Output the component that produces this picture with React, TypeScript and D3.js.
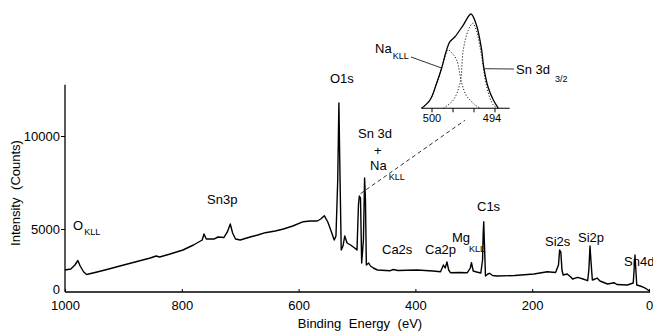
import React, { useRef, useEffect } from 'react';
import * as d3 from 'd3';

// survey spectrum (binding energy in eV, counts)
const energy = [
  1000, 990, 983, 978, 974, 968, 963, 945, 925, 906, 880, 854, 844, 838, 820, 798, 780, 765, 762, 758,
  745, 738, 728, 722, 717, 713, 708, 700, 683, 670, 657, 640, 626, 610, 592, 580, 568, 562, 556, 550,
  545, 539, 536, 533, 531, 529, 527, 524, 521, 517, 511, 504, 500, 497.5, 496, 494, 492, 489, 487, 485.5,
  484, 480, 477, 472, 465, 443, 438, 430, 397, 370, 357, 352, 349, 346, 343, 340, 325, 311, 306, 304,
  301, 295, 288, 285, 284, 283, 282, 280, 276, 273, 268, 260, 230, 197, 174, 160, 155, 153, 151, 149,
  147, 140, 134, 131, 122, 113, 105, 103, 101, 99.5, 97, 92, 89, 84, 71, 60, 55, 37, 27, 25,
  24, 22.5, 21, 15, 9, 4, 0,
];
const counts = [
  1746, 1825, 2143, 2500, 2063, 1587, 1389, 1587, 1825, 2063, 2381, 2698, 2857, 2778, 3016, 3333, 3730, 4127, 4603, 4206,
  4206, 4365, 4325, 4762, 5269, 4683, 4206, 4127, 4365, 4524, 4706, 4841, 5000, 5161, 5392, 5430, 5430, 5538, 5715, 5376,
  4921, 4127, 4444, 7634, 11774, 7634, 3333, 3651, 4444, 3889, 3730, 3492, 3333, 6290, 6774, 6667, 2302, 4127, 7742, 6559,
  2143, 2302, 2063, 1905, 1746, 1690, 1786, 1706, 1746, 1667, 1611, 2143, 1905, 2381, 1746, 1532, 1548, 1532, 1905, 2325,
  1667, 1587, 1508, 2540, 4524, 5392, 4127, 1270, 1429, 1484, 1310, 1270, 1310, 1429, 1611, 1548, 2143, 3333, 3175, 1746,
  1349, 1429, 1190, 1032, 1167, 1032, 897, 1746, 3651, 2540, 952, 1032, 1111, 873, 635, 738, 595, 556, 714, 2143,
  2937, 1746, 556, 476, 373, 238, 103,
];

const xTicks = [1000, 800, 600, 400, 200, 0];
const yTicks = [0, 5000, 10000];

// inset: Sn3d3/2 + Na KLL region (relative intensity)
const insetEnergy = [501, 500.19, 499.55, 499.08, 498.67, 498.29, 497.81, 497.02, 496.29, 495.77, 495.27, 495.08, 494.67, 494.16, 493.69];
const insetEnvelope = [0, 0.088, 0.268, 0.427, 0.597, 0.706, 0.759, 0.883, 1.0, 0.883, 0.618, 0.441, 0.229, 0.088, 0.003];
const naEnergy = [500.95, 500.19, 499.55, 499.08, 498.45, 498.1, 497.65, 497.17, 496.76, 496.38, 495.9, 495.43];
const naValues = [0, 0.088, 0.268, 0.427, 0.618, 0.586, 0.512, 0.268, 0.141, 0.088, 0.035, 0.003];
const snEnergy = [498.92, 497.97, 497.33, 497.02, 496.54, 496.12, 495.74, 495.27, 494.79, 494.16, 493.71];
const snValues = [0, 0.088, 0.268, 0.618, 0.83, 0.901, 0.812, 0.547, 0.229, 0.035, 0.003];
const insetTicks = [500, 498, 496, 494];
const insetTickLabels = ['500', '', '', '494'];

const peakLabels = [
  { text: 'Sn3p', x: 207, y: 204 },
  { text: 'O1s', x: 330, y: 83 },
  { text: 'Sn 3d', x: 358, y: 138 },
  { text: '+', x: 374, y: 155 },
  { text: 'Ca2s', x: 382, y: 254 },
  { text: 'Ca2p', x: 425, y: 254 },
  { text: 'C1s', x: 477, y: 211 },
  { text: 'Si2s', x: 545, y: 246 },
  { text: 'Si2p', x: 578, y: 242 },
  { text: 'Sn4d', x: 624, y: 266 },
];
const subLabels = [
  { main: 'O', sub: 'KLL', x: 73, y: 230, dx: 1, dy: 5 },
  { main: 'Na', sub: 'KLL', x: 370, y: 170, dx: 2, dy: 10 },
  { main: 'Mg', sub: 'KLL', x: 452, y: 242, dx: -1, dy: 10 },
  { main: 'Na', sub: 'KLL', x: 375, y: 53, dx: 1, dy: 6 },
  { main: 'Sn 3d', sub: '3/2', x: 516, y: 74, dx: 5, dy: 8 },
];

const App = () => {
  const chartRef = useRef(null);

  useEffect(() => {
    const svg = d3.select(chartRef.current);
    svg.selectAll('*').remove();
    const font = 'Liberation Sans, Arial, sans-serif';

    const x = d3.scaleLinear().domain([1000, 0]).range([65, 649]);
    // the printed axis is not linear below 5000
    const y = d3.scaleLinear().domain([0, 5000, 10000]).range([292, 229, 136]);

    // axes lines
    svg.append('line')
      .attr('x1', x(1000)).attr('x2', x(0) + 1)
      .attr('y1', y(0)).attr('y2', y(0))
      .attr('stroke', '#000').attr('stroke-width', 1.3);
    svg.append('line')
      .attr('x1', x(1000)).attr('x2', x(1000))
      .attr('y1', y(0)).attr('y2', y(12750))
      .attr('stroke', '#000').attr('stroke-width', 1.3);

    const xAxis = svg.append('g')
      .attr('transform', `translate(0,${y(0)})`)
      .call(d3.axisBottom(x).tickValues(xTicks).tickSizeInner(-3).tickSizeOuter(0).tickPadding(9).tickFormat(d3.format('d')));
    xAxis.select('.domain').remove();

    const yAxis = svg.append('g')
      .attr('transform', `translate(${x(1000)},0)`)
      .call(d3.axisLeft(y).tickValues(yTicks).tickSize(4).tickPadding(1).tickFormat(d3.format('d')));
    yAxis.select('.domain').remove();
    const zeroTick = yAxis.selectAll('.tick').filter(d => d === 0);
    zeroTick.select('line').remove();
    zeroTick.select('text').attr('y', -3).attr('x', -5);

    svg.selectAll('.tick text')
      .attr('font-family', font).attr('font-size', 13).attr('fill', '#000');
    svg.selectAll('.tick line').attr('stroke', '#000');

    svg.append('text')
      .attr('x', 360).attr('y', 328)
      .attr('text-anchor', 'middle')
      .attr('font-family', font).attr('font-size', 13).attr('word-spacing', 4)
      .text('Binding Energy (eV)');
    svg.append('text')
      .attr('transform', 'translate(20,193) rotate(-90)')
      .attr('text-anchor', 'middle')
      .attr('font-family', font).attr('font-size', 13).attr('word-spacing', 4)
      .text('Intensity (Counts)');

    // spectrum
    const line = d3.line()
      .x(i => x(energy[i]))
      .y(i => y(counts[i]));
    svg.append('path')
      .datum(d3.range(energy.length))
      .attr('d', line)
      .attr('fill', 'none')
      .attr('stroke', '#000')
      .attr('stroke-width', 1.4)
      .attr('stroke-linejoin', 'round');

    // labels
    svg.selectAll('.peak')
      .data(peakLabels)
      .enter().append('text')
      .attr('x', d => d.x).attr('y', d => d.y)
      .attr('font-family', font).attr('font-size', 13)
      .text(d => d.text);

    subLabels.forEach(d => {
      const t = svg.append('text')
        .attr('x', d.x).attr('y', d.y)
        .attr('font-family', font).attr('font-size', 13);
      t.append('tspan').text(d.main);
      t.append('tspan')
        .attr('dx', d.dx).attr('dy', d.dy)
        .attr('font-size', 9)
        .text(d.sub);
    });

    // inset
    const xi = d3.scaleLinear().domain([500, 494]).range([432, 495]);
    const yi = d3.scaleLinear().domain([0, 1]).range([108.3, 14]);

    svg.append('line')
      .attr('x1', xi(501)).attr('x2', xi(492.6))
      .attr('y1', yi(0)).attr('y2', yi(0))
      .attr('stroke', '#000').attr('stroke-width', 1.1);
    svg.selectAll('.itick')
      .data(insetTicks)
      .enter().append('line')
      .attr('x1', d => xi(d)).attr('x2', d => xi(d))
      .attr('y1', yi(0)).attr('y2', yi(0) + 4)
      .attr('stroke', '#000');
    svg.selectAll('.ilabel')
      .data(insetTicks)
      .enter().append('text')
      .attr('x', d => xi(d) - (d === 494 ? 3 : 0)).attr('y', yi(0) + 14)
      .attr('text-anchor', 'middle')
      .attr('font-family', font).attr('font-size', 11)
      .text((d, i) => insetTickLabels[i]);

    const insetLine = (es, vs) => d3.line()
      .x(i => xi(es[i]))
      .y(i => yi(vs[i]))
      .curve(d3.curveCatmullRom)(d3.range(es.length));

    svg.append('path')
      .attr('d', insetLine(naEnergy, naValues))
      .attr('fill', 'none').attr('stroke', '#000')
      .attr('stroke-width', 0.9).attr('stroke-dasharray', '1.2 1.8');
    svg.append('path')
      .attr('d', insetLine(snEnergy, snValues))
      .attr('fill', 'none').attr('stroke', '#000')
      .attr('stroke-width', 0.9).attr('stroke-dasharray', '1.2 1.8');
    svg.append('path')
      .attr('d', insetLine(insetEnergy, insetEnvelope))
      .attr('fill', 'none').attr('stroke', '#000')
      .attr('stroke-width', 1.3);

    // leader lines to inset components
    svg.append('line')
      .attr('x1', 411).attr('y1', 57)
      .attr('x2', xi(499.08)).attr('y2', yi(0.427))
      .attr('stroke', '#000').attr('stroke-width', 0.8);
    svg.append('line')
      .attr('x1', 514).attr('y1', 69)
      .attr('x2', xi(495.0)).attr('y2', yi(0.42))
      .attr('stroke', '#000').attr('stroke-width', 0.8);

    // dashed connector from main peak to inset
    svg.append('line')
      .attr('x1', x(494)).attr('y1', y(6900))
      .attr('x2', xi(496.86)).attr('y2', yi(0) + 12)
      .attr('stroke', '#000').attr('stroke-width', 0.8)
      .attr('stroke-dasharray', '4 3');
  }, []);

  return (
    <svg
      ref={chartRef}
      width={653}
      height={333}
      style={{ position: 'absolute', left: 0, top: 0, background: '#fff' }}
    ></svg>
  );
};

export default App;
